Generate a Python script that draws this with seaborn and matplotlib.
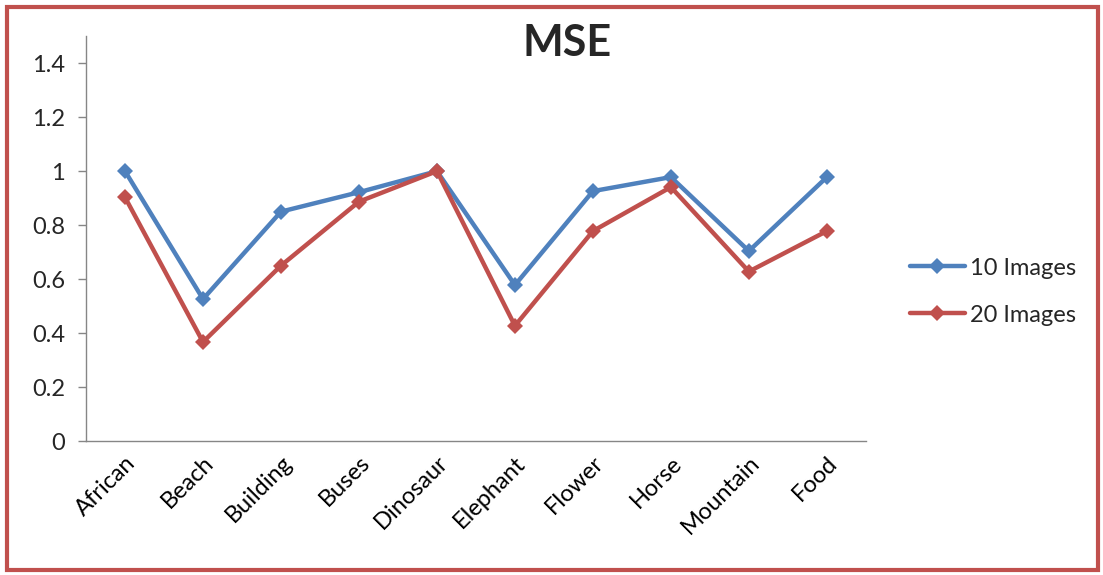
import numpy as np
import pandas as pd
import matplotlib
matplotlib.use("Agg")
import matplotlib.pyplot as plt
from matplotlib.patches import Rectangle
import seaborn as sns

categories = ["African", "Beach", "Building", "Buses", "Dinosaur",
              "Elephant", "Flower", "Horse", "Mountain", "Food"]
mse_10 = [1.0, 0.526, 0.85, 0.922, 1.0, 0.578, 0.926, 0.978, 0.704, 0.978]
mse_20 = [0.903, 0.367, 0.65, 0.887, 1.0, 0.427, 0.778, 0.941, 0.628, 0.778]
series_names = ["10 Images", "20 Images"]
y_ticks = [0, 0.2, 0.4, 0.6, 0.8, 1, 1.2, 1.4]
y_tick_labels = ["0", "0.2", "0.4", "0.6", "0.8", "1", "1.2", "1.4"]

df = pd.DataFrame({
    "Category": categories * 2,
    "MSE": mse_10 + mse_20,
    "Series": [series_names[0]] * len(categories) + [series_names[1]] * len(categories),
})

sns.set_style("white")
plt.rcParams["font.family"] = ["Lato", "DejaVu Sans"]

fig = plt.figure(figsize=(11.03, 5.75), dpi=100)
ax = fig.add_axes([0.078, 0.233, 0.707, 0.704])

palette = {series_names[0]: "#4F81BD", series_names[1]: "#C0504D"}
sns.lineplot(data=df, x="Category", y="MSE", hue="Series", palette=palette,
             marker="D", markersize=8.5, markeredgewidth=0, linewidth=3.2,
             sort=False, ax=ax)

ax.set_xlim(-0.5, len(categories) - 0.5)
ax.set_ylim(0, 1.5)
ax.set_yticks(y_ticks)
ax.set_yticklabels(y_tick_labels)
ax.set_xticks(range(len(categories)))
ax.set_xticklabels(categories, rotation=45, ha="right", rotation_mode="anchor")
ax.set_xticks(np.arange(-0.5, len(categories), 1), minor=True)
ax.tick_params(axis="x", which="major", length=0, pad=8, labelsize=17, colors="#000000")
ax.tick_params(axis="x", which="minor", length=6, width=1, color="#868686")
ax.tick_params(axis="y", which="major", length=6, width=1, color="#868686",
               labelsize=17, pad=9, left=True)
ax.set_xlabel("")
ax.set_ylabel("")

for side in ["top", "right"]:
    ax.spines[side].set_visible(False)
for side in ["left", "bottom"]:
    ax.spines[side].set_color("#868686")
    ax.spines[side].set_linewidth(1)

fig.text(0.514, 0.925, "MSE", ha="center", va="center", fontsize=31, fontweight="bold")

handles, labels = ax.get_legend_handles_labels()
ax.legend_.remove()
fig.legend(handles, labels, loc="center left", bbox_to_anchor=(0.806, 0.493),
           frameon=False, fontsize=17, handlelength=2.3, handletextpad=0.25,
           labelspacing=1.1)

fig.patches.append(Rectangle((0.0063, 0.0087), 0.989, 0.979, transform=fig.transFigure,
                             fill=False, edgecolor="#C0504D", linewidth=3))

fig.savefig("out.png", dpi=100)
